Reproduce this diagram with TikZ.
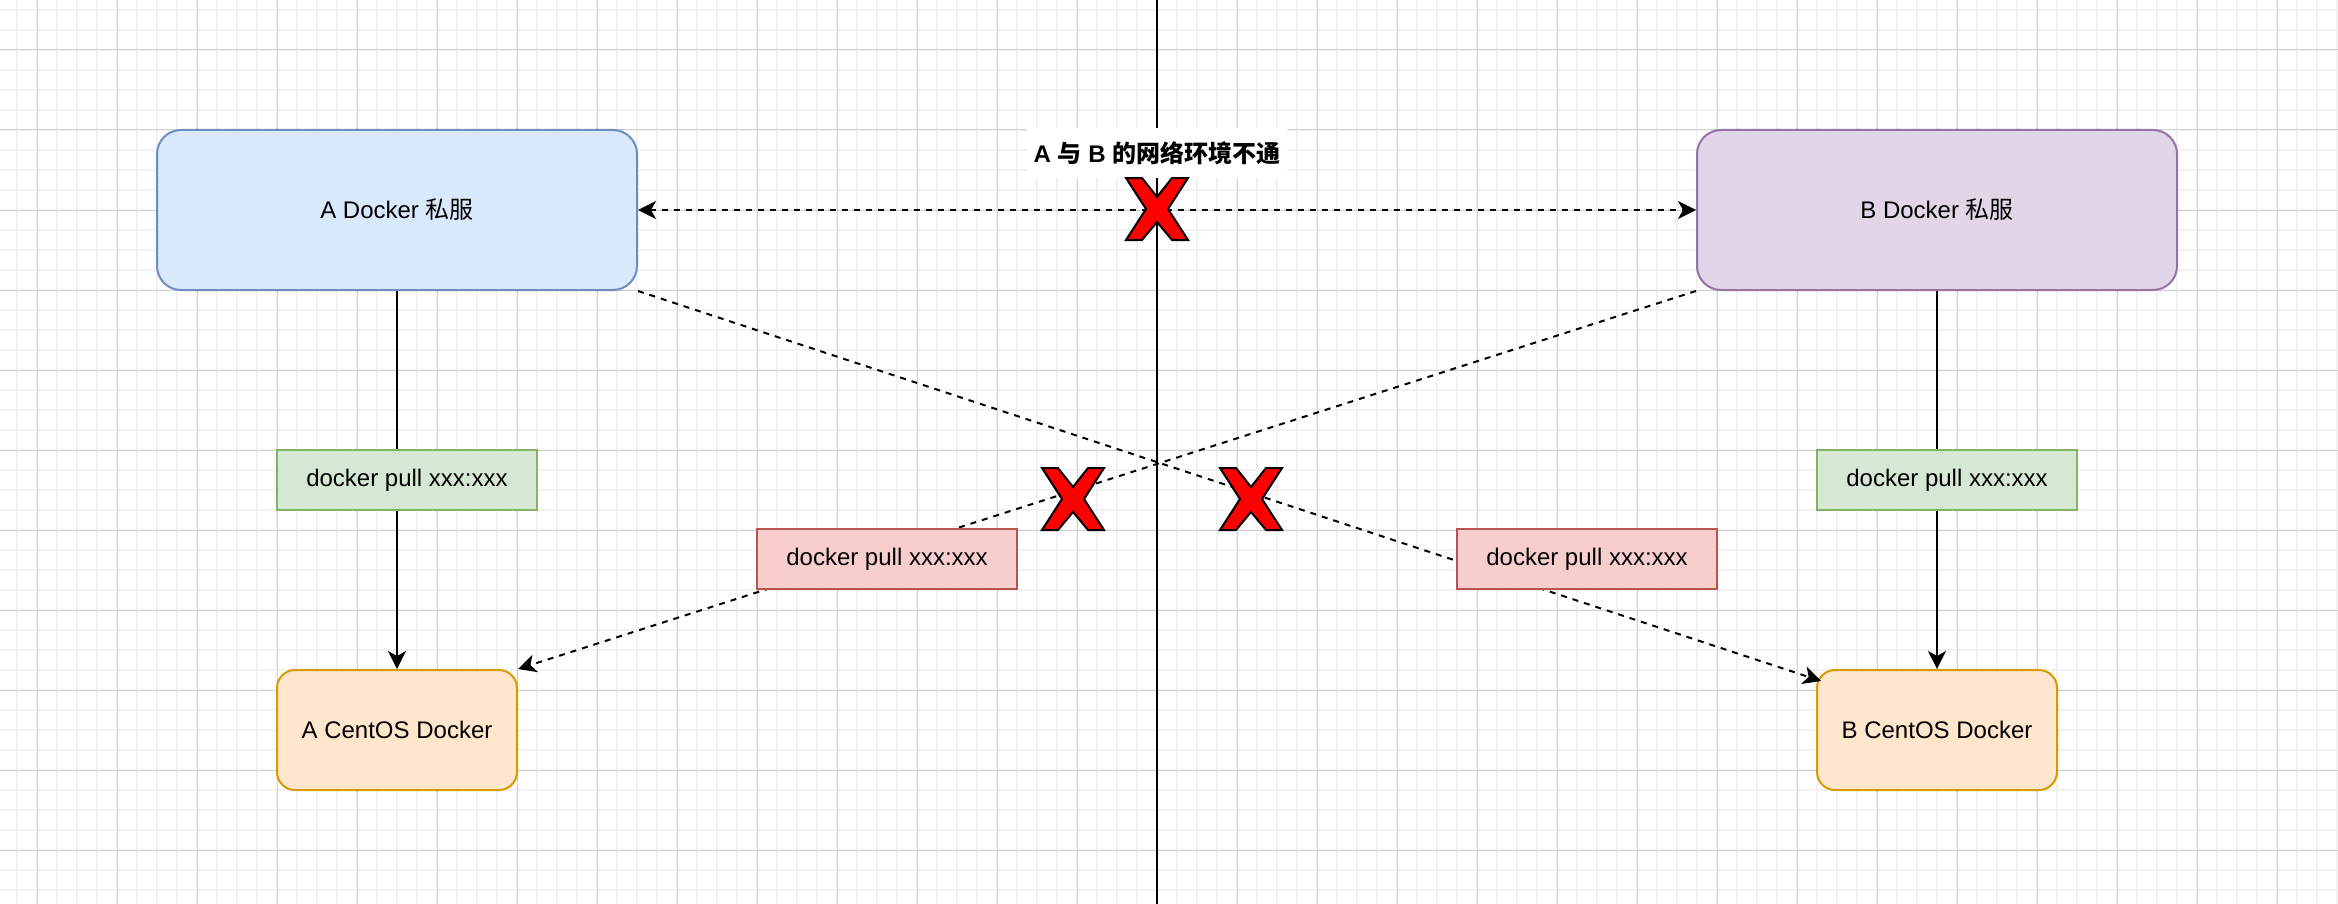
\documentclass[tikz,border=0pt]{standalone}
\usepackage{fontspec}
\setmainfont{Liberation Sans}
\newfontfamily\cjk{Noto Sans CJK SC}
\usetikzlibrary{positioning,arrows.meta}
\definecolor{gridminor}{HTML}{F2F2F2}
\definecolor{gridmajor}{HTML}{D2D2D2}
\definecolor{bluefill}{HTML}{DAE8FC}
\definecolor{bluedraw}{HTML}{6C8EBF}
\definecolor{purplefill}{HTML}{E1D5E7}
\definecolor{purpledraw}{HTML}{9673A6}
\definecolor{greenfill}{HTML}{D5E8D4}
\definecolor{greendraw}{HTML}{82B366}
\definecolor{redfill}{HTML}{F8CECC}
\definecolor{reddraw}{HTML}{B85450}
\definecolor{orangefill}{HTML}{FFE6CC}
\definecolor{orangedraw}{HTML}{D79B00}
\newcommand{\Redcross}[1]{%
  \draw [cross, shift={(#1)}] (-31,-31) -- (-15,-31) -- (0,-12) -- (15,-31) -- (31,-31)
    -- (11,0) -- (31,31) -- (15,31) -- (0,13) -- (-15,31) -- (-31,31) -- (-11,0) -- cycle;}

\begin{document}
\begin{tikzpicture}[x=0.5pt, y=-0.5pt, font=\fontsize{12pt}{14pt}\selectfont,
    >={Stealth[length=9pt, width=9pt, inset=2.5pt]}]
  \tikzstyle{server}=[rectangle, rounded corners=12pt, line width=1pt, minimum width=240pt, minimum height=80pt]
  \tikzstyle{client}=[rectangle, rounded corners=9pt, line width=1pt, draw=orangedraw, fill=orangefill, minimum width=120pt, minimum height=60pt]
  \tikzstyle{cmd}=[rectangle, line width=1pt, minimum width=130pt, minimum height=30pt]
  \tikzstyle{pull}=[->, line width=1pt]
  \tikzstyle{blocked}=[line width=1pt, dash pattern=on 3pt off 3pt]
  \tikzstyle{cross}=[fill=red, draw=black, line width=1pt, line join=miter]
  \useasboundingbox (0,0) rectangle (2338,904);
  \fill [white] (0,0) rectangle (2338,904);
  % grid
  \foreach \x in {17,37,...,2337} \draw [gridminor, line width=1pt] (\x,0) -- (\x,904);
  \foreach \y in {10,30,...,890} \draw [gridminor, line width=1pt] (0,\y) -- (2338,\y);
  \foreach \x in {37,117,...,2317} \draw [gridmajor, line width=0.5pt] (\x,0) -- (\x,904);
  \foreach \y in {50,130,...,850} \draw [gridmajor, line width=0.5pt] (0,\y) -- (2338,\y);
  % servers and clients
  \node (as) [server, draw=bluedraw, fill=bluefill] at (397,210) {A Docker {\cjk 私服}};
  \node (bs) [server, draw=purpledraw, fill=purplefill] at (1937,210) {B Docker {\cjk 私服}};
  \node (ac) [client, below=189pt of as] {A CentOS Docker};
  \node (bc) [client, below=189pt of bs] {B CentOS Docker};
  % border line
  \coordinate (top) at (1157,0);
  \coordinate (bottom) at (1157,904);
  \draw [line width=1pt] (top) -- (bottom);
  % pulls
  \draw [pull] (as) -- (ac);
  \draw [pull] (bs) -- (bc);
  \draw [blocked, <->] (as) -- (bs);
  \draw [blocked, ->] (as.south east) -- ([xshift=2.5pt, yshift=-6pt]bc.north west);
  \draw [blocked, ->] (bs.south west) -- (ac.north east);
  % labels
  \node (ap) [cmd, draw=greendraw, fill=greenfill] at (407,480) {docker pull xxx:xxx};
  \node (bp) [cmd, draw=greendraw, fill=greenfill] at (1947,480) {docker pull xxx:xxx};
  \node (ar) [cmd, draw=reddraw, fill=redfill] at (887,559) {docker pull xxx:xxx};
  \node (br) [cmd, draw=reddraw, fill=redfill] at (1587,559) {docker pull xxx:xxx};
  \node (title) [fill=white, minimum width=130pt, minimum height=25pt, font=\fontsize{12pt}{14pt}\selectfont\bfseries]
    at (1157,153) {A {\cjk 与} B {\cjk 的网络环境不通}};
  % crosses
  \coordinate (x1) at (1157,209);
  \coordinate (x2) at (1073,499);
  \coordinate (x3) at (1251,499);
  \foreach \c in {x1,x2,x3} \Redcross{\c};
\end{tikzpicture}
\end{document}
